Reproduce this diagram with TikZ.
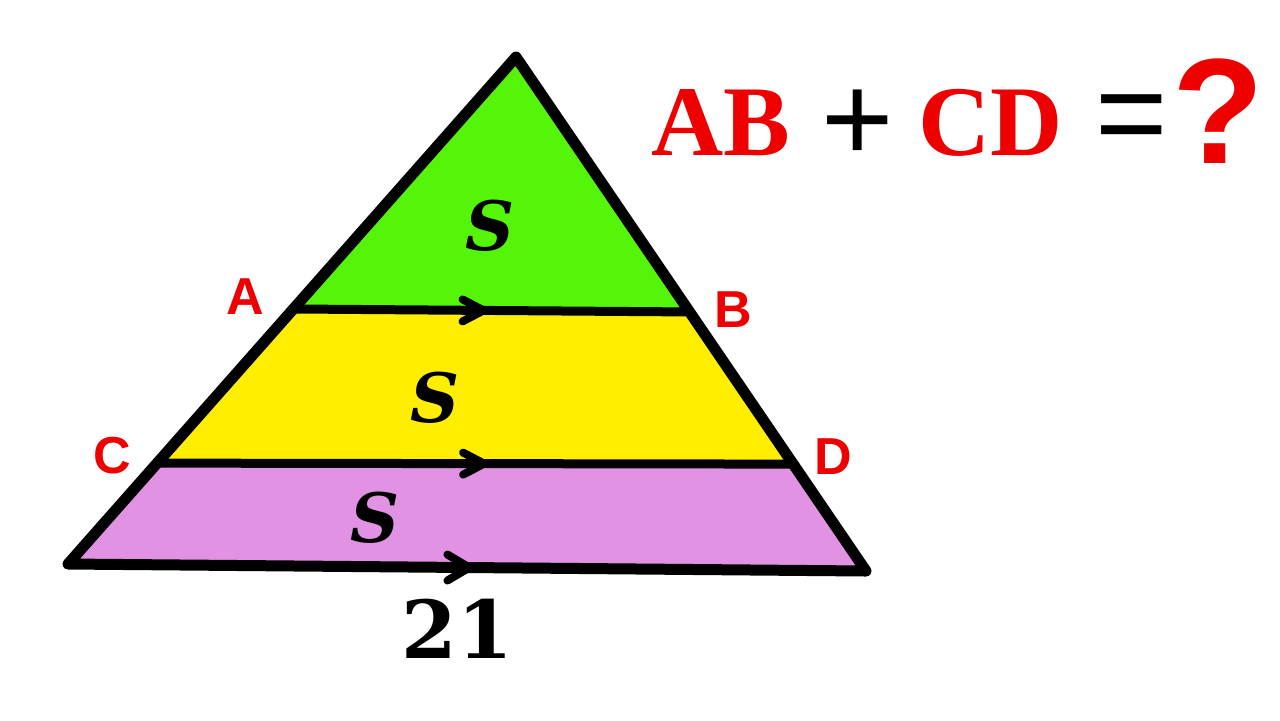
\documentclass[tikz,border=0pt]{standalone}
\usepackage{fontspec}
\setmainfont{Liberation Serif}
\newfontfamily\lsans{Liberation Sans}
\newfontfamily\dserif{DejaVu Serif}
\usetikzlibrary{calc}
\definecolor{tgreen}{RGB}{85,245,10}
\definecolor{tyellow}{RGB}{255,238,0}
\definecolor{tpurple}{RGB}{226,146,226}
\definecolor{tred}{RGB}{238,0,0}
\tikzset{
  edge/.style={line width=4.5pt, line cap=round, line join=round, draw=black},
  chev/.style={line width=4pt, line cap=round, line join=round, draw=black},
  ptlabel/.style={inner sep=0pt, text=tred, font=\lsans\bfseries\fontsize{26}{26}\selectfont},
  slabel/.style={inner sep=0pt, font=\dserif\bfseries\itshape\fontsize{34}{34}\selectfont},
  titlered/.style={inner sep=0pt, text=tred, font=\bfseries\fontsize{50}{50}\selectfont},
  titleop/.style={inner sep=0pt, text=black, font=\lsans\fontsize{62}{62}\selectfont},
  qmark/.style={inner sep=0pt, text=tred, font=\lsans\bfseries\fontsize{75}{75}\selectfont},
  numlabel/.style={inner sep=0pt, font=\dserif\bfseries\fontsize{40}{40}\selectfont}
}
\begin{document}
\begin{tikzpicture}[x=0.5pt,y=-0.5pt]
\useasboundingbox[fill=white] (0,0) rectangle (1280,720);
\coordinate (T) at (516,57);
\coordinate (L) at (68,564);
\coordinate (R) at (866,571);
\coordinate (A) at ($(T)!0.497!(L)$);
\coordinate (B) at ($(T)!0.496!(R)$);
\coordinate (C) at ($(T)!0.801!(L)$);
\coordinate (D) at ($(T)!0.792!(R)$);
% fills
\fill[tpurple] (C) -- (D) -- (R) -- (L) -- cycle;
\fill[tyellow] (A) -- (B) -- (D) -- (C) -- cycle;
\fill[tgreen] (T) -- (B) -- (A) -- cycle;
% lines
\draw[edge] (A) -- (B);
\draw[edge] (C) -- (D);
\draw[edge, line width=5.5pt] (T) -- (L) -- (R) -- cycle;
% chevrons
\coordinate (tAB) at ($(A)!0.48!(B)$);
\coordinate (tCD) at ($(C)!0.514!(D)$);
\coordinate (tLR) at ($(L)!0.503!(R)$);
\draw[chev] ([shift={(-21,-11)}]tAB) -- (tAB) -- ([shift={(-21,11)}]tAB);
\draw[chev] ([shift={(-21,-11)}]tCD) -- (tCD) -- ([shift={(-21,11)}]tCD);
\draw[chev] ([shift={(-22,-13)}]tLR) -- (tLR) -- ([shift={(-22,13)}]tLR);
% S labels
\node[slabel] (s1) at (490,226) {S};
\node[slabel] (s2) at (435,398) {S};
\node[slabel] (s3) at (375,518) {S};
% base length
\node[numlabel, anchor=base] (n21) at (457,658) {21};
% point labels
\node[ptlabel] (lA) at (245,297) {A};
\node[ptlabel] (lB) at (733,310) {B};
\node[ptlabel] (lC) at (112,456) {C};
\node[ptlabel] (lD) at (833,457) {D};
% title
\node[titlered, anchor=base] (tAB) at (721,155) {AB};
\node[titleop] (tplus) at (858,126) {+};
\node[titlered, anchor=base] (tCD) at (991,155) {CD};
\node[titleop] (teq) at (1132,125) {=};
\node[qmark, anchor=base] (tq) at (1218,163) {?};
\end{tikzpicture}
\end{document}
